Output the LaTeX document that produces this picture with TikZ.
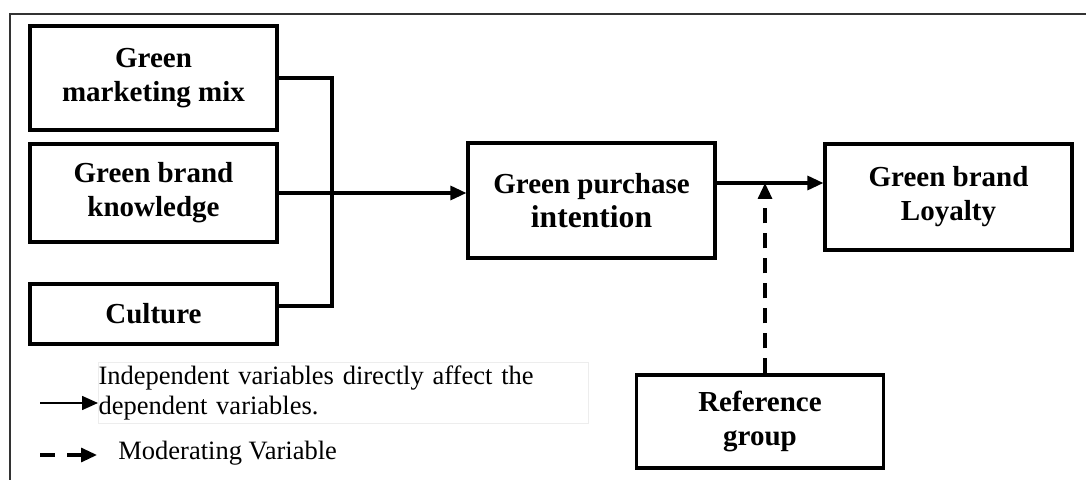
\documentclass[tikz,border=0pt]{standalone}
\usepackage{fontspec}
\setmainfont{Liberation Serif}
\usetikzlibrary{arrows.meta}
\tikzstyle{block} = [rectangle, minimum width=123.5pt, text centered, align=center, draw=black, line width=1.6pt, inner sep=0pt, font=\fontsize{14.5}{17}\selectfont\bfseries]
\tikzstyle{line} = [line width=1.6pt]
\tikzstyle{arrow} = [line width=1.6pt,-{Triangle[length=8pt,width=7pt]}]
\tikzstyle{thinarrow} = [line width=0.8pt,-{Triangle[length=8pt,width=7pt]}]
\tikzstyle{dasharrow} = [line width=1.6pt,dash pattern=on 7.5pt off 6pt,-{Triangle[length=8pt,width=7pt]}]
\tikzstyle{legend} = [inner sep=0pt, font=\fontsize{13.25}{15}\selectfont]

\begin{document}
\begin{tikzpicture}[x=0.5pt,y=-0.5pt]
        \useasboundingbox (0,0) rectangle (1086,480);
        \draw [line width=0.7pt, black!80] (1086,14) -- (10,14) -- (10,480);
        % independent variables
        \node (mix) [block, minimum height=52pt] at (153.5,78) {Green\\marketing mix};
        \node (know) [block, minimum height=49pt] at (153.5,193) {Green brand\\knowledge};
        \node (cult) [block, minimum height=30pt] at (153.5,314) {Culture};
        % dependent variables
        \node (gpi) [block, minimum height=57.5pt] at (591.5,200.5) {Green purchase\\{\fontsize{15.8}{17}\selectfont intention}};
        \node (gbl) [block, minimum height=53pt] at (948.5,197) {Green brand\\Loyalty};
        % moderator
        \node (ref) [block, minimum height=46.5pt] at (760,421.5) {Reference\\group};
        \coordinate (jn) at (332,193);
        \coordinate (link) at (765,183);
        \draw [line] (mix.east) -| (jn) |- ([yshift=4pt]cult.east);
        \draw [arrow] (know.east) -- (know.east -| gpi.west);
        \draw [arrow] (gpi.east |- link) -- (gbl.west |- link);
        \draw [dasharrow, dash pattern=on 7.5pt off 5pt] (link |- ref.north) -- (link);
        % legend
        \node (legtext) [legend, draw=black!7, line width=0.5pt, anchor=north west, text width=245pt, minimum height=30.5pt, align=left] at (98,362) {Independent variables directly affect the\\dependent variables.};
        \node (modtext) [legend, anchor=base west] at (118,459) {Moderating Variable};
        \coordinate (la) at (40,403);
        \coordinate (lb) at (40,455);
        \draw [thinarrow] (la) -- (legtext.west |- la);
        \draw [dasharrow] (lb) -- ([xshift=-10.5pt]modtext.west |- lb);
    \end{tikzpicture}
\end{document}
